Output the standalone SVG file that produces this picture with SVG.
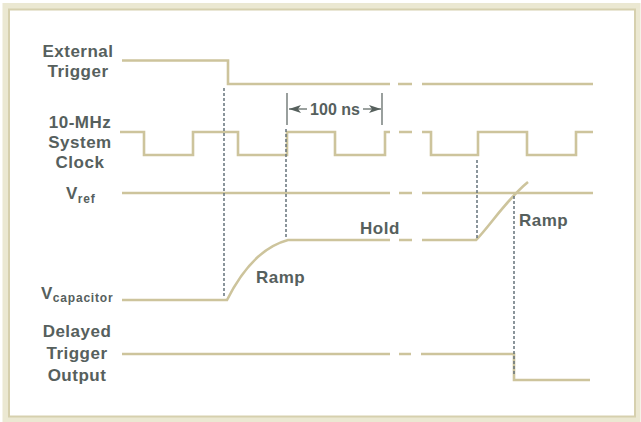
<svg xmlns="http://www.w3.org/2000/svg" width="641" height="422" viewBox="0 0 641 422">
<style>
.sig{fill:none;stroke:#cdc49c;stroke-width:2.6;stroke-linejoin:miter}
.dash{fill:none;stroke:#66737b;stroke-width:1.5;stroke-dasharray:3 2}
.lbl{font-family:"Liberation Sans",Arial,sans-serif;font-weight:bold;font-size:17px;fill:#56605d;letter-spacing:0.5px}
.sub{font-size:12px;letter-spacing:0.8px}
.tick{stroke:#56605d;stroke-width:1.2}
</style>
<defs>
<marker id="ah" viewBox="0 0 12 8" refX="12" refY="4" markerWidth="12" markerHeight="8" markerUnits="userSpaceOnUse" orient="auto">
<path d="M0,0 L12,4 L0,8 L3,4 Z" fill="#56605d"/>
</marker>
</defs>
<rect width="641" height="422" fill="#ffffff"/>
<rect x="5.5" y="6" width="632" height="413" fill="none" stroke="#ebe8d2" stroke-width="6"/>
<rect x="9" y="9.5" width="626" height="407" fill="none" stroke="#d6d0ae" stroke-width="2"/>

<g id="label-external-trigger">
<text class="lbl" x="78" y="57" text-anchor="middle">External</text>
<text class="lbl" x="78" y="77" text-anchor="middle">Trigger</text>
</g>
<g id="label-clock">
<text class="lbl" x="80" y="128" text-anchor="middle">10-MHz</text>
<text class="lbl" x="80" y="148" text-anchor="middle">System</text>
<text class="lbl" x="80" y="168" text-anchor="middle">Clock</text>
</g>
<g id="label-vref">
<text class="lbl" x="66" y="199">V<tspan class="sub" dy="4">ref</tspan></text>
</g>
<g id="label-vcap">
<text class="lbl" x="41" y="299">V<tspan class="sub" dy="3">capacitor</tspan></text>
</g>
<g id="label-delayed">
<text class="lbl" x="77" y="337" text-anchor="middle">Delayed</text>
<text class="lbl" x="77" y="359" text-anchor="middle">Trigger</text>
<text class="lbl" x="77" y="381" text-anchor="middle">Output</text>
</g>

<g id="connectors">
<path class="sig" d="M122,60.5 H228 V84 H390 M398,84 H412 M422,84 H593"/>
<path class="sig" d="M120,132 H144 V155 H193 V132 H238 V155 H287 V132 H335 V155 H385 V132 H390 M399,132 H412 M422,132 H431 V155 H478 V132 H527 V155 H576 V132 H593"/>
<path class="sig" d="M122,193 H390 M399,193 H412 M422,193 H593"/>
<path class="sig" d="M122,300 H227 C238,278 258,248 288,240 H390 M399,240 H412 M422,240 H476 C490,226 506,200 528,182"/>
<path class="sig" d="M122,354 H390 M399,354 H411 M421,354 H514 V380 H590"/>
<path class="dash" d="M224,88 V297"/>
<path class="dash" d="M286,129 V239"/>
<path class="dash" d="M477,160 V238"/>
<path class="dash" d="M514,196 V376"/>
<line class="tick" x1="287" y1="93" x2="287" y2="125"/>
<line class="tick" x1="382" y1="93" x2="382" y2="125"/>
<line class="tick" x1="307" y1="109" x2="289" y2="109" marker-end="url(#ah)"/>
<line class="tick" x1="363" y1="109" x2="381" y2="109" marker-end="url(#ah)"/>
</g>
<g id="label-100ns">
<text class="lbl" x="335" y="115" text-anchor="middle" style="font-size:16px;letter-spacing:0px">100 ns</text>
</g>
<g id="label-ramp1"><text class="lbl" x="256" y="283">Ramp</text></g>
<g id="label-hold"><text class="lbl" x="360" y="234">Hold</text></g>
<g id="label-ramp2"><text class="lbl" x="519" y="226">Ramp</text></g>
</svg>
